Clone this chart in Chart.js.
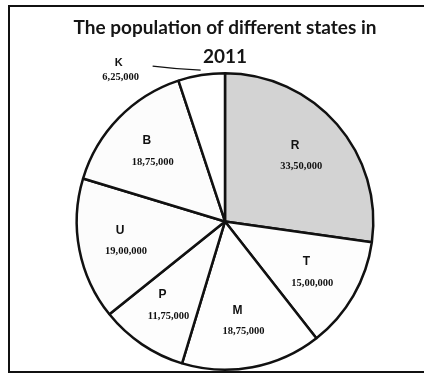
<!DOCTYPE html>
<html>
<head>
<meta charset="utf-8">
<title>Population pie</title>
<script src="https://cdn.jsdelivr.net/npm/chart.js@4"></script>
<style>
  body { margin: 0; background: #fff; }
  #frame {
    position: absolute; left: 8px; top: 5px;
    width: 420px; height: 364px;
    border: 2px solid #111; border-right: none;
  }
  #wrap { position: absolute; left: 0; top: 0; width: 424px; height: 374px; }
</style>
</head>
<body>
<div id="frame"></div>
<div id="wrap"><canvas id="pie"></canvas></div>
<script>
// population by state, 2011
const states = ['R', 'T', 'M', 'P', 'U', 'B', 'K'];
const population = [3350000, 1500000, 1875000, 1175000, 1900000, 1875000, 625000];
const sliceColors = ['#d3d3d3', '#fdfdfd', '#fefefe', '#fdfdfd', '#fcfcfc', '#fcfcfc', '#ffffff'];

// 3350000 -> "33,50,000"
function indianFormat(n) {
    let s = String(n);
    let last3 = s.slice(-3);
    let rest = s.slice(0, -3);
    if (rest.length > 0) {
        rest = rest.replace(/\B(?=(\d{2})+(?!\d))/g, ',');
        return rest + ',' + last3;
    }
    return last3;
}

// state letter + value inside each slice, small slices get a leader line outside
const sliceLabels = {
    id: 'sliceLabels',
    afterDatasetsDraw(chart) {
        const ctx = chart.ctx;
        const arcs = chart.getDatasetMeta(0).data;
        ctx.save();
        ctx.fillStyle = '#111';
        ctx.textAlign = 'center';
        ctx.textBaseline = 'middle';
        arcs.forEach((arc, i) => {
            const p = arc.getProps(['x', 'y', 'startAngle', 'endAngle', 'outerRadius'], true);
            const mid = (p.startAngle + p.endAngle) / 2;
            const span = p.endAngle - p.startAngle;
            const value = indianFormat(population[i]);
            if (span < 0.5) {
                const sx = p.x + Math.cos(mid) * (p.outerRadius + 5);
                const sy = p.y + Math.sin(mid) * (p.outerRadius + 5);
                const ex = sx - 48;
                const ey = sy - 4;
                ctx.strokeStyle = '#111';
                ctx.lineWidth = 1.2;
                ctx.beginPath();
                ctx.moveTo(sx, sy);
                ctx.quadraticCurveTo((sx + ex) / 2, sy - 1, ex, ey);
                ctx.stroke();
                const tx = ex - 32;
                ctx.font = 'bold 11px "Liberation Sans"';
                ctx.fillText(states[i], tx - 2, ey - 3);
                ctx.font = 'bold 10.5px "Liberation Serif"';
                ctx.fillText(value, tx, ey + 11);
            } else {
                const r = p.outerRadius * 0.68;
                const cx = p.x + Math.cos(mid) * r;
                const cy = p.y + Math.sin(mid) * r;
                ctx.font = 'bold 12px "Liberation Sans"';
                ctx.fillText(states[i], cx - 6, cy - 10);
                ctx.font = 'bold 10.5px "Liberation Serif"';
                ctx.fillText(value, cx, cy + 11);
            }
        });
        ctx.restore();
    }
};

new Chart(document.getElementById('pie'), {
    type: 'pie',
    data: {
        labels: states,
        datasets: [{
            data: population,
            backgroundColor: sliceColors,
            borderColor: '#111',
            borderWidth: 2.5
        }]
    },
    options: {
        responsive: true,
        maintainAspectRatio: false,
        animation: false,
        events: [],
        layout: { padding: { left: 60, right: 34, bottom: 3 } },
        plugins: {
            legend: { display: false },
            tooltip: { enabled: false },
            title: {
                display: true,
                text: ['The population of different states in', '2011'],
                color: '#151515',
                font: { family: 'Lato', size: 19, weight: 'bold', lineHeight: 1.55 },
                padding: { top: 13, bottom: 0 }
            }
        }
    },
    plugins: [sliceLabels]
});
</script>
</body>
</html>
